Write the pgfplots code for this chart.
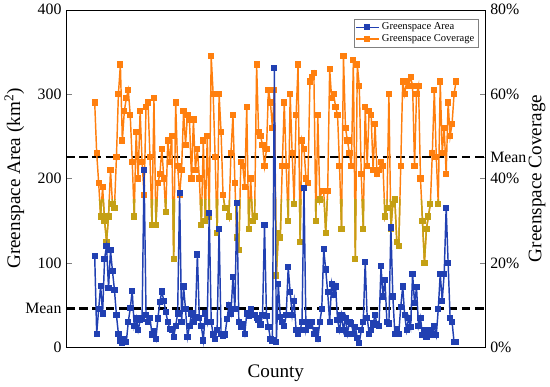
\documentclass[border=0pt]{standalone}
\usepackage{fontspec}
\setmainfont{Liberation Serif}
\usepackage{pgfplots}
\usepackage{pgfplotstable}
\pgfplotsset{compat=1.18}
\definecolor{cblue}{RGB}{33,64,178}
\definecolor{corange}{RGB}{255,127,14}
\definecolor{colive}{RGB}{196,160,20}

\pgfplotstableread{
a c
108 58
16 46
45 39
73 31
40 38
105 30
120 25
70 31
115 42
90 34
68 33
38 45
16 60
8 67
5 49
10 56
6 59
30 61
46 55
67 44
25 31
35 51
20 40
32 56
34 44
210 36
38 57
30 58
35 45
15 29
19 59
10 29
34 39
54 41
66 47
55 40
42 32
30 49
22 44
20 50
12 21
25 58
40 43
183 36
30 42
72 56
45 48
12 55
25 54
40 40
30 54
36 42
110 47
35 40
25 29
8 49
40 30
30 50
159 31
30 69
15 60
10 45
20 27
140 60
16 51
13 36
15 33
33 33
50 31
40 46
83 55
45 39
171 26
30 23
24 44
27 43
16 38
40 57
37 28
45 40
38 30
38 31
35 67
32 51
27 50
38 48
145 43
37 47
24 61
10 58
8 52
331 61
6 17
75 27
36 26
30 43
25 58
38 43
95 30
65 60
38 46
55 34
20 55
16 67
20 25
30 49
189 47
20 40
30 39
25 63
30 64
16 65
20 30
10 55
30 35
45 37
116 37
92 27
65 37
30 66
75 59
62 60
72 57
32 55
20 43
38 28
20 69
35 52
16 49
30 46
28 43
16 68
24 21
11 67
5 62
20 41
30 28
101 57
35 43
16 56
20 55
28 42
38 53
27 41
25 42
96 44
60 43
80 31
30 33
28 60
142 28
60 34
16 35
22 25
16 24
48 43
72 63
38 60
20 63
35 62
24 64
87 62
52 43
71 60
25 62
35 40
14 30
20 20
12 28
18 31
20 34
15 46
25 61
14 45
45 34
87 63
55 46
87 52
165 41
100 58
35 50
30 53
6 60
6 63
}\data

\pgfplotsset{
  base/.style={
    scale only axis, width=318pt, height=255.75pt,
    xmin=-13.5, xmax=199, ymin=0,
    tick align=inside,
    /pgf/number format/assume math mode=true,
    tick label style={font=\fontsize{12}{14}\selectfont},
    label style={font=\fontsize{14.5}{17}\selectfont},
    xtick=\empty,
  },
  meanline/.style={black, line width=1.9pt, dash pattern=on 6.5pt off 3.5pt},
}

\begin{document}
\begin{tikzpicture}
% right axis: coverage
\begin{axis}[base, ymax=80,
  axis y line*=right, axis x line=none,
  ytick={0,20,40,45.1,60,80},
  yticklabels={0\%,20\%,40\%,Mean,60\%,80\%},
  ylabel={Greenspace Coverage},
  ylabel style={yshift=5pt},
]
\addplot[meanline, forget plot] coordinates {(-13.5,45.1) (199,45.1)};
\addplot[corange, line width=1.1pt, mark=square*, mark size=1.8pt,
  mark options={solid, fill=corange}] table[x expr=\coordindex+1, y=c] {\data};
\end{axis}
% olive overlay below 35 %
\begin{axis}[base, height=111.89pt, ymax=35, hide axis, clip=true]
\addplot[colive, line width=1.1pt, mark=square*, mark size=1.8pt,
  mark options={solid, fill=colive}] table[x expr=\coordindex+1, y=c] {\data};
\end{axis}
% left axis: area
\begin{axis}[base, ymax=400,
  ytick pos=left,
  ytick={0,45.7,100,200,300,400},
  yticklabels={0,Mean,100,200,300,400},
  ylabel={Greenspace Area (km\textsuperscript{2})},
  ylabel style={yshift=-6pt},
  xlabel={County},
  xlabel style={at={(axis description cs:0.5,0)}, anchor=center, yshift=-20pt},
  legend style={at={(0.983,0.974)}, anchor=north east,
    font=\fontsize{8}{9.5}\selectfont, draw=gray, inner sep=1pt,
    row sep=-2pt},
  legend cell align=left,
]
\addplot[meanline, forget plot] coordinates {(-13.5,45.7) (199,45.7)};
\addplot[cblue, line width=1.1pt, mark=square*, mark size=1.8pt,
  mark options={solid, fill=cblue}] table[x expr=\coordindex+1, y=a] {\data};
\addlegendentry{Greenspace Area}
\addlegendimage{corange, line width=1.1pt, mark=square*, mark size=1.8pt, mark options={solid, fill=corange}}
\addlegendentry{Greenspace Coverage}
\end{axis}
\end{tikzpicture}
\end{document}
